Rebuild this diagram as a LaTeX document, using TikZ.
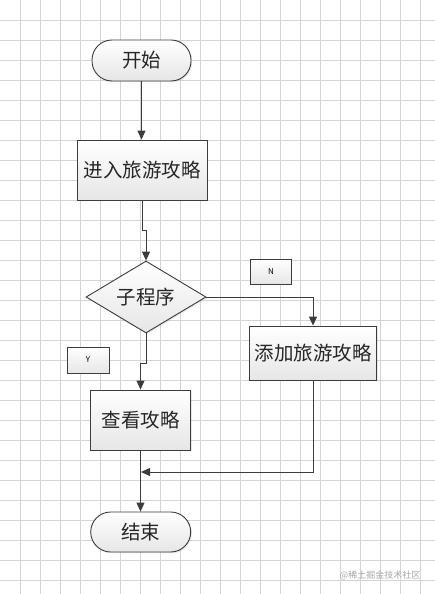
\documentclass[tikz,border=0pt]{standalone}
\usepackage{fontspec}
\newfontfamily\cjk{Noto Sans CJK SC}
\usetikzlibrary{shapes.geometric,arrows.meta,shadows}
\definecolor{edge}{HTML}{3C3C3C}
\definecolor{gridc}{HTML}{D4D4D4}
\definecolor{shadeb}{HTML}{E6E6E6}
\tikzset{
  box/.style={draw=edge, line width=0.9pt, top color=white, bottom color=shadeb,
    drop shadow={opacity=0.18, shadow xshift=1.2pt, shadow yshift=-1.2pt},
    font=\cjk\fontsize{19.5}{22}\selectfont, inner sep=0pt, text=black!85},
  termbox/.style={box, rounded corners=20pt},
  decbox/.style={box, diamond, aspect=1.667},
  tagbox/.style={draw=edge, line width=0.7pt, top color=white, bottom color=shadeb,
    font=\cjk\fontsize{8}{9}\selectfont, inner sep=0pt, minimum width=41pt, minimum height=25pt},
  arr/.style={draw=edge, line width=1pt, -{Triangle[length=9pt,width=8pt]}},
  ln/.style={draw=edge, line width=1pt}
}
\begin{document}
\begin{tikzpicture}[x=1pt,y=-1pt]
\useasboundingbox (0,0) rectangle (435,594);
\fill[white] (0,0) rectangle (435,594);
\foreach \gx in {20,40,...,420} \draw[gridc, line width=0.7pt] (\gx,0) -- (\gx,594);
\foreach \gy in {20,40,...,580} \draw[gridc, line width=0.7pt] (0,\gy) -- (435,\gy);

\node[termbox, minimum width=99pt, minimum height=41pt] (start) at (141.5,60.5) {开始};
\node[box, minimum width=130pt, minimum height=60pt] (enter) at (142,170) {进入旅游攻略};
\node[decbox, minimum width=120pt, minimum height=72pt] (sub) at (146,297) {子程序};
\node[box, minimum width=127pt, minimum height=54pt] (add) at (313,353) {添加旅游攻略};
\node[box, minimum width=100pt, minimum height=60pt] (view) at (140.5,420) {查看攻略};
\node[termbox, minimum width=100pt, minimum height=40pt] (end) at (140.7,532) {结束};
\node[tagbox] (n) at (271,272) {N};
\node[tagbox, minimum width=42pt, minimum height=26pt] (y) at (88,360) {Y};
\coordinate (m) at (141,472);

\draw[arr] (start.south) -- (start.south |- enter.north);
\draw[arr] (enter.south) -- ++(0,30) -| (sub.north);
\draw[arr] (sub.east) -| (add.north);
\draw[arr] (sub.south) -- ++(0,30) -| (view.north);
\draw[arr] (view.south) -- (view.south |- end.north);
\draw[arr] (add.south) |- (m);

\node[font=\cjk\fontsize{9}{10}\selectfont, text=black!35] (wm) at (380,575) {@稀土掘金技术社区};
\end{tikzpicture}
\end{document}
